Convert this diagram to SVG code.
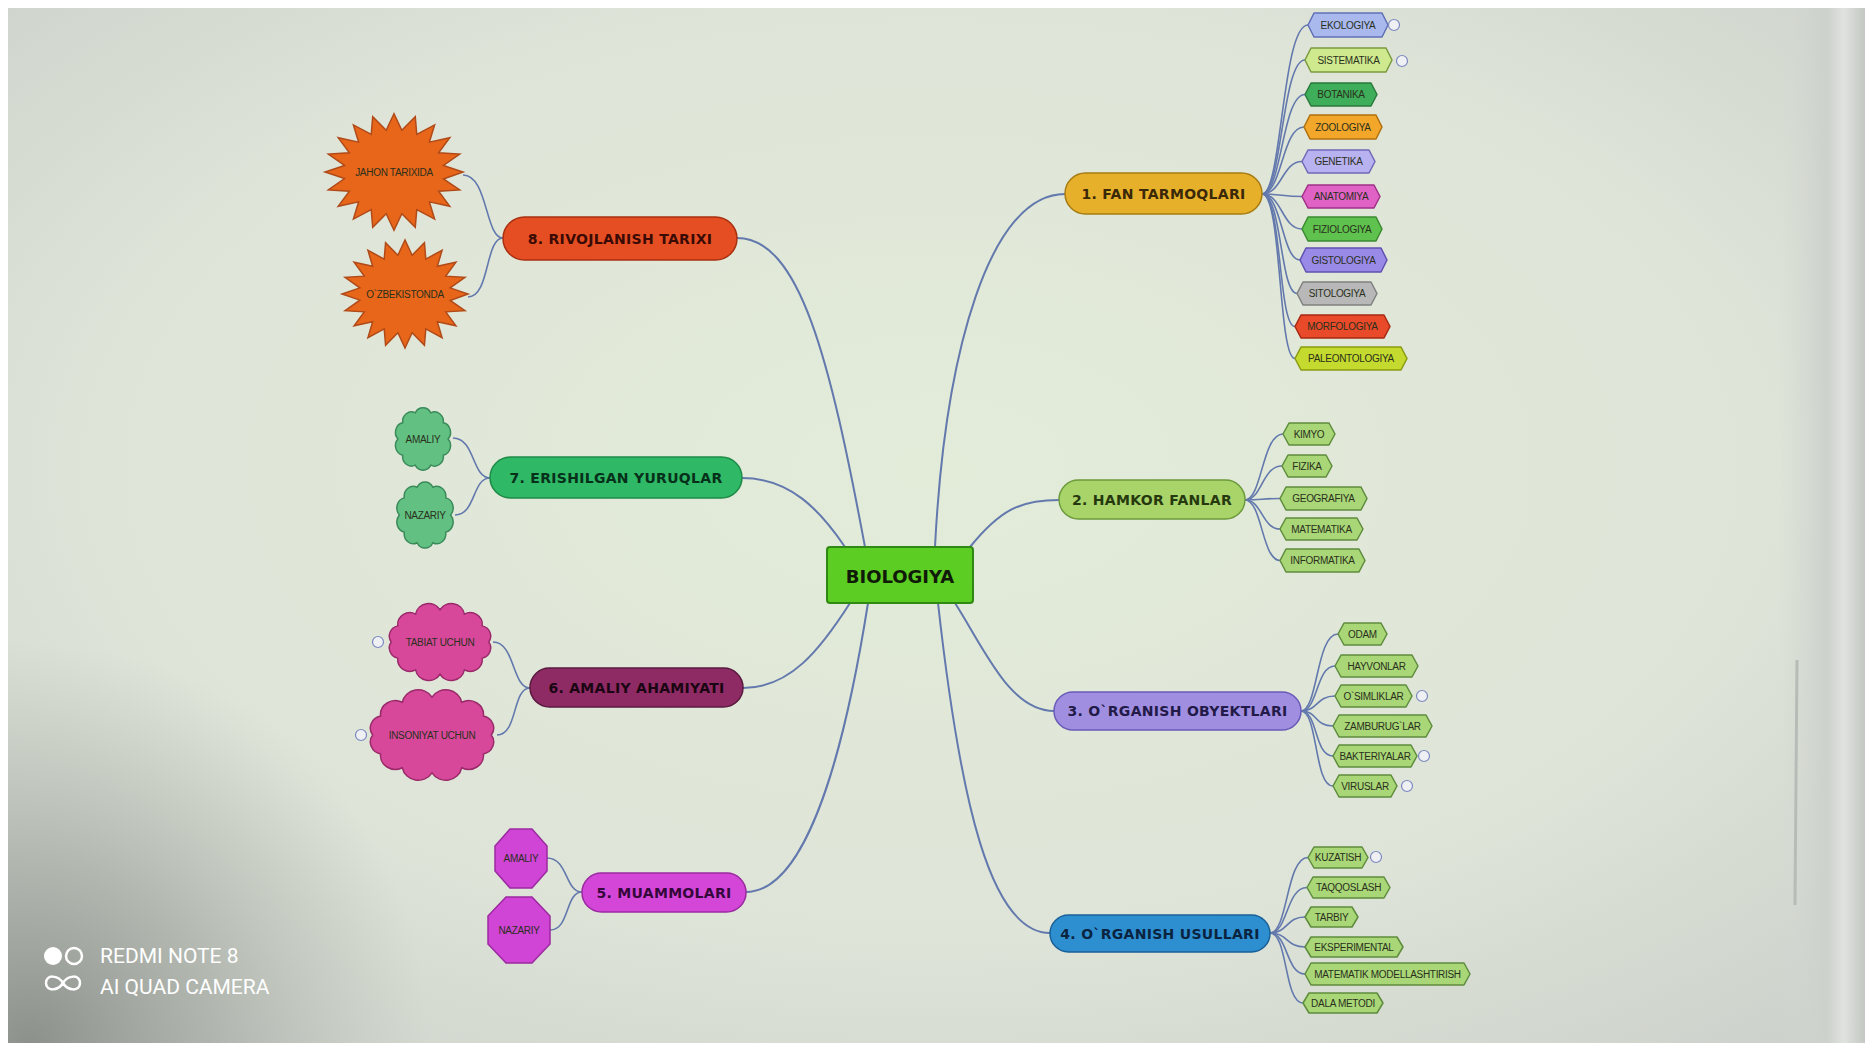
<svg xmlns="http://www.w3.org/2000/svg" xmlns:xlink="http://www.w3.org/1999/xlink" width="1865" height="1043" viewBox="0 0 1865 1043">
<style>
.conn{fill:none;stroke:#6379ad;stroke-width:1.6}
.main{stroke-width:2}
.bt{font-family:"DejaVu Sans",sans-serif;font-weight:bold;font-size:14px;text-anchor:middle;letter-spacing:0.3px}
.st{font-family:"Liberation Sans",Arial,sans-serif;font-size:10px;text-anchor:middle;fill:#2a301c;letter-spacing:-0.3px}
.sub{stroke-width:1.5;stroke-linejoin:round}
.g2{fill:#a9d677;stroke:#5d8c3c}
.ic{fill:#eef0f4;stroke:#7c88c0;stroke-width:1.2}
.wm{font-family:Roboto,"Liberation Sans",sans-serif;font-size:21px;fill:#ffffff}
</style>
<defs>
<radialGradient id="bg" cx="0.5" cy="0.45" r="0.75">
<stop offset="0" stop-color="#e3ecd9"/>
<stop offset="0.6" stop-color="#dee4d8"/>
<stop offset="1" stop-color="#cbcfca"/>
</radialGradient>
<radialGradient id="bl" gradientUnits="userSpaceOnUse" cx="30" cy="1043" r="400">
<stop offset="0" stop-color="#858a84" stop-opacity="0.9"/>
<stop offset="0.45" stop-color="#959a94" stop-opacity="0.55"/>
<stop offset="1" stop-color="#a8ada7" stop-opacity="0"/>
</radialGradient>
<linearGradient id="rt" x1="0" y1="0" x2="1" y2="0">
<stop offset="0" stop-color="#d4d8d3" stop-opacity="0"/>
<stop offset="0.55" stop-color="#cdd1cc"/>
<stop offset="0.75" stop-color="#dfe2de"/>
<stop offset="1" stop-color="#c4c8c3"/>
</linearGradient>
<polygon id="star" vector-effect="non-scaling-stroke" points="60,0 43,7.2 57.1,18.5 38.8,19.8 48.5,35.3 30.8,30.8 35.3,48.5 19.8,38.8 18.5,57.1 6.8,43 0,60 -6.8,43 -18.5,57.1 -19.8,38.8 -35.3,48.5 -30.8,30.8 -48.5,35.3 -38.8,19.8 -57.1,18.5 -43,6.8 -60,0 -43,-6.8 -57.1,-18.5 -38.8,-19.8 -48.5,-35.3 -30.8,-30.8 -35.3,-48.5 -19.8,-38.8 -18.5,-57.1 -6.8,-43 0,-60 6.8,-43 18.5,-57.1 19.8,-38.8 35.3,-48.5 30.8,-30.8 48.5,-35.3 38.8,-19.8 57.1,-18.5 43,-6.8"/>
<path id="flower" vector-effect="non-scaling-stroke" d="M27,0 A9.5,9.5 0 0 1 21.84,15.87 A9.5,9.5 0 0 1 8.34,25.68 A9.5,9.5 0 0 1 -8.34,25.68 A9.5,9.5 0 0 1 -21.84,15.87 A9.5,9.5 0 0 1 -27,0 A9.5,9.5 0 0 1 -21.84,-15.87 A9.5,9.5 0 0 1 -8.34,-25.68 A9.5,9.5 0 0 1 8.34,-25.68 A9.5,9.5 0 0 1 21.84,-15.87 A9.5,9.5 0 0 1 27,0 Z"/>
<path id="cloud" vector-effect="non-scaling-stroke" d="M46,0 A10,10 0 0 1 39.84,15.5 A11.5,11.5 0 0 1 23,26.85 A12.5,12.5 0 0 1 0,31 A12.5,12.5 0 0 1 -23,26.85 A11.5,11.5 0 0 1 -39.84,15.5 A10,10 0 0 1 -46,0 A10,10 0 0 1 -39.84,-15.5 A11.5,11.5 0 0 1 -23,-26.85 A12.5,12.5 0 0 1 0,-31 A12.5,12.5 0 0 1 23,-26.85 A11.5,11.5 0 0 1 39.84,-15.5 A10,10 0 0 1 46,0 Z"/>
</defs>

<!-- photo background -->
<rect width="1865" height="1043" fill="url(#bg)"/>
<rect width="1865" height="1043" fill="url(#bl)"/>
<rect x="1780" y="0" width="85" height="1043" fill="url(#rt)"/>
<line x1="1797" y1="660" x2="1795" y2="905" stroke="#b8bcb7" stroke-width="3"/>
<rect x="0" y="0" width="1865" height="8" fill="#ffffff"/>
<rect x="0" y="0" width="8" height="1043" fill="#ffffff"/>

<g id="connectors">
<path class="conn main" d="M935,547 C945,350 990,194 1065,194"/>
<path class="conn main" d="M970,547 C1000,510 1020,500 1059,500"/>
<path class="conn main" d="M955,603 C985,650 1010,711 1054,711"/>
<path class="conn main" d="M938,603 C960,800 990,933 1050,933"/>
<path class="conn main" d="M868,603 C840,780 800,892 746,892"/>
<path class="conn main" d="M850,603 C820,650 790,688 743,688"/>
<path class="conn main" d="M845,547 C820,510 790,478 742,478"/>
<path class="conn main" d="M865,547 C830,360 800,238 737,238"/>
<!-- branch 1 -->
<path class="conn" d="M1262,194 C1282,194 1282,25 1308,25"/>
<path class="conn" d="M1262,194 C1282,194 1282,60 1305,60"/>
<path class="conn" d="M1262,194 C1282,194 1282,94.5 1305,94.5"/>
<path class="conn" d="M1262,194 C1282,194 1282,127 1304,127"/>
<path class="conn" d="M1262,194 C1282,194 1282,161.5 1302,161.5"/>
<path class="conn" d="M1262,194 C1282,194 1282,196.5 1302,196.5"/>
<path class="conn" d="M1262,194 C1282,194 1282,229 1302,229"/>
<path class="conn" d="M1262,194 C1282,194 1282,260 1300,260"/>
<path class="conn" d="M1262,194 C1282,194 1280,293.5 1297,293.5"/>
<path class="conn" d="M1262,194 C1282,194 1278,326.5 1295,326.5"/>
<path class="conn" d="M1262,194 C1282,194 1278,358.5 1295,358.5"/>
<!-- branch 2 -->
<path class="conn" d="M1245,500 C1262,500 1262,434 1283,434"/>
<path class="conn" d="M1245,500 C1262,500 1262,466 1282,466"/>
<path class="conn" d="M1245,500 C1262,500 1262,498.5 1280,498.5"/>
<path class="conn" d="M1245,500 C1262,500 1262,529 1280,529"/>
<path class="conn" d="M1245,500 C1262,500 1262,560.5 1280,560.5"/>
<!-- branch 3 -->
<path class="conn" d="M1301,711 C1318,711 1316,634 1338,634"/>
<path class="conn" d="M1301,711 C1318,711 1316,666 1335,666"/>
<path class="conn" d="M1301,711 C1318,711 1316,696 1335,696"/>
<path class="conn" d="M1301,711 C1318,711 1314,726 1333,726"/>
<path class="conn" d="M1301,711 C1318,711 1314,756 1333,756"/>
<path class="conn" d="M1301,711 C1318,711 1314,786 1333,786"/>
<!-- branch 4 -->
<path class="conn" d="M1270,933 C1288,933 1286,857.5 1308,857.5"/>
<path class="conn" d="M1270,933 C1288,933 1286,887.5 1307,887.5"/>
<path class="conn" d="M1270,933 C1288,933 1286,917 1305,917"/>
<path class="conn" d="M1270,933 C1288,933 1286,947 1305,947"/>
<path class="conn" d="M1270,933 C1288,933 1286,974 1305,974"/>
<path class="conn" d="M1270,933 C1288,933 1284,1003 1303,1003"/>
<!-- left branches -->
<path class="conn" d="M503,238 C485,238 488,175 463,175"/>
<path class="conn" d="M503,238 C485,238 490,297 468,297"/>
<path class="conn" d="M490,478 C472,478 475,438 453,438"/>
<path class="conn" d="M490,478 C472,478 476,515 455,515"/>
<path class="conn" d="M530,688 C512,688 515,642 493,642"/>
<path class="conn" d="M530,688 C512,688 518,735 497,735"/>
<path class="conn" d="M582,892 C565,892 568,858 547,858"/>
<path class="conn" d="M582,892 C565,892 570,930 550,930"/>
</g>

<g id="n-biologiya">
<rect x="827" y="547" width="146" height="56" rx="3" fill="#5ccd22" stroke="#2f8a14" stroke-width="2"/>
<text x="900" y="583" font-family="DejaVu Sans, sans-serif" font-weight="bold" font-size="18" text-anchor="middle" fill="#101a08">BIOLOGIYA</text>
</g>

<g id="n-1">
<rect x="1065" y="173" width="197" height="41" rx="20.5" fill="#e6b02a" stroke="#a67c12" stroke-width="1.5"/>
<text class="bt" x="1163.5" y="199" fill="#3a2808">1. FAN TARMOQLARI</text>
</g>
<g id="n-2">
<rect x="1059" y="480" width="186" height="39" rx="19.5" fill="#a8d46a" stroke="#6c9a3a" stroke-width="1.5"/>
<text class="bt" x="1152" y="505" fill="#26380e">2. HAMKOR FANLAR</text>
</g>
<g id="n-3">
<rect x="1054" y="692" width="247" height="38" rx="19" fill="#a08fe0" stroke="#6a5ab8" stroke-width="1.5"/>
<text class="bt" x="1177.5" y="716" fill="#221a48">3. O`RGANISH OBYEKTLARI</text>
</g>
<g id="n-4">
<rect x="1050" y="915" width="220" height="37" rx="18.5" fill="#2d8fd0" stroke="#1a6098" stroke-width="1.5"/>
<text class="bt" x="1160" y="938.5" fill="#0a2440">4. O`RGANISH USULLARI</text>
</g>
<g id="n-5">
<rect x="582" y="873" width="164" height="39" rx="19.5" fill="#d446d8" stroke="#9a2aa0" stroke-width="1.5"/>
<text class="bt" x="664" y="897.5" fill="#34083a">5. MUAMMOLARI</text>
</g>
<g id="n-6">
<rect x="530" y="668" width="213" height="39" rx="19.5" fill="#8e2a64" stroke="#5a1a40" stroke-width="1.5"/>
<text class="bt" x="636.5" y="692.5" fill="#1a0612">6. AMALIY AHAMIYATI</text>
</g>
<g id="n-7">
<rect x="490" y="457" width="252" height="41" rx="20.5" fill="#2fb865" stroke="#1e8a48" stroke-width="1.5"/>
<text class="bt" x="616" y="482.5" fill="#06301a">7. ERISHILGAN YURUQLAR</text>
</g>
<g id="n-8">
<rect x="503" y="217" width="234" height="43" rx="21.5" fill="#e54e22" stroke="#a83010" stroke-width="1.5"/>
<text class="bt" x="620" y="243.5" fill="#3a0a04">8. RIVOJLANISH TARIXI</text>
</g>

<!-- branch 1 subtopics -->
<g id="s-ekologiya"><polygon class="sub" fill="#a9b9ee" stroke="#6070b8" points="1308,25 1314,13 1382,13 1388,25 1382,37 1314,37"/><text class="st" x="1348" y="28.5">EKOLOGIYA</text><circle class="ic" cx="1394" cy="25" r="5.5"/></g>
<g id="s-sistematika"><polygon class="sub" fill="#cfe98f" stroke="#7a9a40" points="1305,60 1311,48 1386,48 1392,60 1386,72 1311,72"/><text class="st" x="1348.5" y="63.5">SISTEMATIKA</text><circle class="ic" cx="1402" cy="61" r="5.5"/></g>
<g id="s-botanika"><polygon class="sub" fill="#3fae5a" stroke="#2a7a3c" points="1305,94.5 1311,83 1371,83 1377,94.5 1371,106 1311,106"/><text class="st" x="1341" y="98">BOTANIKA</text></g>
<g id="s-zoologiya"><polygon class="sub" fill="#f2a62a" stroke="#b07010" points="1304,127 1310,115 1376,115 1382,127 1376,139 1310,139"/><text class="st" x="1343" y="130.5">ZOOLOGIYA</text></g>
<g id="s-genetika"><polygon class="sub" fill="#b9b2f0" stroke="#7068b8" points="1302,161.5 1308,150 1369,150 1375,161.5 1369,173 1308,173"/><text class="st" x="1338.5" y="165">GENETIKA</text></g>
<g id="s-anatomiya"><polygon class="sub" fill="#e062c4" stroke="#a03088" points="1302,196.5 1308,185 1374,185 1380,196.5 1374,208 1308,208"/><text class="st" x="1341" y="200">ANATOMIYA</text></g>
<g id="s-fiziologiya"><polygon class="sub" fill="#5fc24e" stroke="#3a8a30" points="1302,229 1308,217 1376,217 1382,229 1376,241 1308,241"/><text class="st" x="1342" y="232.5">FIZIOLOGIYA</text></g>
<g id="s-gistologiya"><polygon class="sub" fill="#9a8ae8" stroke="#6050b0" points="1300,260 1306,248 1381,248 1387,260 1381,272 1306,272"/><text class="st" x="1343.5" y="263.5">GISTOLOGIYA</text></g>
<g id="s-sitologiya"><polygon class="sub" fill="#b8b8b8" stroke="#808080" points="1297,293.5 1303,282 1371,282 1377,293.5 1371,305 1303,305"/><text class="st" x="1337" y="297">SITOLOGIYA</text></g>
<g id="s-morfologiya"><polygon class="sub" fill="#e84a2a" stroke="#a82810" points="1295,326.5 1301,315 1384,315 1390,326.5 1384,338 1301,338"/><text class="st" x="1342.5" y="330">MORFOLOGIYA</text></g>
<g id="s-paleontologiya"><polygon class="sub" fill="#c4da2e" stroke="#8a9a10" points="1295,358.5 1301,347 1401,347 1407,358.5 1401,370 1301,370"/><text class="st" x="1351" y="362">PALEONTOLOGIYA</text></g>

<!-- branch 2 subtopics -->
<g id="s-kimyo"><polygon class="sub g2" points="1283,434 1289,423 1329,423 1335,434 1329,445 1289,445"/><text class="st" x="1309" y="437.5">KIMYO</text></g>
<g id="s-fizika"><polygon class="sub g2" points="1282,466 1288,455 1326,455 1332,466 1326,477 1288,477"/><text class="st" x="1307" y="469.5">FIZIKA</text></g>
<g id="s-geografiya"><polygon class="sub g2" points="1280,498.5 1286,487 1361,487 1367,498.5 1361,510 1286,510"/><text class="st" x="1323.5" y="502">GEOGRAFIYA</text></g>
<g id="s-matematika"><polygon class="sub g2" points="1280,529 1286,518 1357,518 1363,529 1357,540 1286,540"/><text class="st" x="1321.5" y="532.5">MATEMATIKA</text></g>
<g id="s-informatika"><polygon class="sub g2" points="1280,560.5 1286,549 1359,549 1365,560.5 1359,572 1286,572"/><text class="st" x="1322.5" y="564">INFORMATIKA</text></g>

<!-- branch 3 subtopics -->
<g id="s-odam"><polygon class="sub g2" points="1338,634 1344,623 1381,623 1387,634 1381,645 1344,645"/><text class="st" x="1362.5" y="637.5">ODAM</text></g>
<g id="s-hayvonlar"><polygon class="sub g2" points="1335,666 1341,655 1412,655 1418,666 1412,677 1341,677"/><text class="st" x="1376.5" y="669.5">HAYVONLAR</text></g>
<g id="s-osimliklar"><polygon class="sub g2" points="1335,696 1341,685 1406,685 1412,696 1406,707 1341,707"/><text class="st" x="1373.5" y="699.5">O`SIMLIKLAR</text><circle class="ic" cx="1422" cy="696" r="5.5"/></g>
<g id="s-zamburuglar"><polygon class="sub g2" points="1333,726 1339,715 1426,715 1432,726 1426,737 1339,737"/><text class="st" x="1382.5" y="729.5">ZAMBURUG`LAR</text></g>
<g id="s-bakteriyalar"><polygon class="sub g2" points="1333,756 1339,745 1411,745 1417,756 1411,767 1339,767"/><text class="st" x="1375" y="759.5">BAKTERIYALAR</text><circle class="ic" cx="1424" cy="756" r="5.5"/></g>
<g id="s-viruslar"><polygon class="sub g2" points="1333,786 1339,775 1391,775 1397,786 1391,797 1339,797"/><text class="st" x="1365" y="789.5">VIRUSLAR</text><circle class="ic" cx="1407" cy="786" r="5.5"/></g>

<!-- branch 4 subtopics -->
<g id="s-kuzatish"><polygon class="sub g2" points="1308,857.5 1314,847 1362,847 1368,857.5 1362,868 1314,868"/><text class="st" x="1338" y="861">KUZATISH</text><circle class="ic" cx="1376" cy="857" r="5.5" stroke="#5a6ad0"/></g>
<g id="s-taqqoslash"><polygon class="sub g2" points="1307,887.5 1313,877 1384,877 1390,887.5 1384,898 1313,898"/><text class="st" x="1348.5" y="891">TAQQOSLASH</text></g>
<g id="s-tarbiy"><polygon class="sub g2" points="1305,917 1311,907 1352,907 1358,917 1352,927 1311,927"/><text class="st" x="1331.5" y="920.5">TARBIY</text></g>
<g id="s-eksperimental"><polygon class="sub g2" points="1305,947 1311,937 1397,937 1403,947 1397,957 1311,957"/><text class="st" x="1354" y="950.5">EKSPERIMENTAL</text></g>
<g id="s-modellashtirish"><polygon class="sub g2" points="1305,974 1311,963 1464,963 1470,974 1464,985 1311,985"/><text class="st" x="1387.5" y="977.5">MATEMATIK MODELLASHTIRISH</text></g>
<g id="s-dala"><polygon class="sub g2" points="1303,1003 1309,993 1377,993 1383,1003 1377,1013 1309,1013"/><text class="st" x="1343" y="1006.5">DALA METODI</text></g>

<!-- branch 8 subtopics (stars) -->
<g id="s-jahon"><use xlink:href="#star" href="#star" transform="translate(394,172) scale(1.15,0.97)" fill="#e8661a" stroke="#b04a18" stroke-width="1.5"/><text class="st" x="394" y="176" fill="#4a1a05">JAHON TARIXIDA</text></g>
<g id="s-ozbekistonda"><use xlink:href="#star" href="#star" transform="translate(405,294) scale(1.05,0.9)" fill="#e8661a" stroke="#b04a18" stroke-width="1.5"/><text class="st" x="405" y="298" fill="#4a1a05">O`ZBEKISTONDA</text></g>

<!-- branch 7 subtopics -->
<g id="s-amaliy7"><use xlink:href="#flower" href="#flower" transform="translate(423,439) scale(0.93,1.02)" fill="#62c182" stroke="#3a8a5a" stroke-width="1.5"/><text class="st" x="423" y="442.5">AMALIY</text></g>
<g id="s-nazariy7"><use xlink:href="#flower" href="#flower" transform="translate(425,515) scale(0.95,1.08)" fill="#62c182" stroke="#3a8a5a" stroke-width="1.5"/><text class="st" x="425" y="518.5">NAZARIY</text></g>

<!-- branch 6 subtopics -->
<g id="s-tabiat"><use xlink:href="#cloud" href="#cloud" transform="translate(440,642) scale(1.06,1.04)" fill="#d8489a" stroke="#9a2a6a" stroke-width="1.5"/><text class="st" x="440" y="645.5" fill="#3a0a24">TABIAT UCHUN</text><circle class="ic" cx="378" cy="642" r="5.5"/></g>
<g id="s-insoniyat"><use xlink:href="#cloud" href="#cloud" transform="translate(432,735) scale(1.29,1.22)" fill="#d8489a" stroke="#9a2a6a" stroke-width="1.5"/><text class="st" x="432" y="738.5" fill="#3a0a24">INSONIYAT UCHUN</text><circle class="ic" cx="361" cy="735" r="5.5"/></g>

<!-- branch 5 subtopics -->
<g id="s-amaliy5"><polygon points="510,829 532,829 547,846 547,871 532,888 510,888 495,871 495,846" fill="#d044d6" stroke="#9a2aa0" stroke-width="1.5"/><text class="st" x="521" y="861.5" fill="#3a0840">AMALIY</text></g>
<g id="s-nazariy5"><polygon points="506,897 532,897 550,916 550,944 532,963 506,963 488,944 488,916" fill="#d044d6" stroke="#9a2aa0" stroke-width="1.5"/><text class="st" x="519" y="933.5" fill="#3a0840">NAZARIY</text></g>

<!-- camera watermark -->
<g id="watermark">
<circle cx="53" cy="956" r="9" fill="#ffffff"/>
<circle cx="74" cy="956" r="8" fill="none" stroke="#ffffff" stroke-width="2.5"/>
<path d="M63,983 C58,975 46,974 46,983 C46,992 58,991 63,983 C68,975 80,974 80,983 C80,992 68,991 63,983 Z" fill="none" stroke="#ffffff" stroke-width="2.5"/>
<text class="wm" x="100" y="963">REDMI NOTE 8</text>
<text class="wm" x="100" y="994">AI QUAD CAMERA</text>
</g>
</svg>
